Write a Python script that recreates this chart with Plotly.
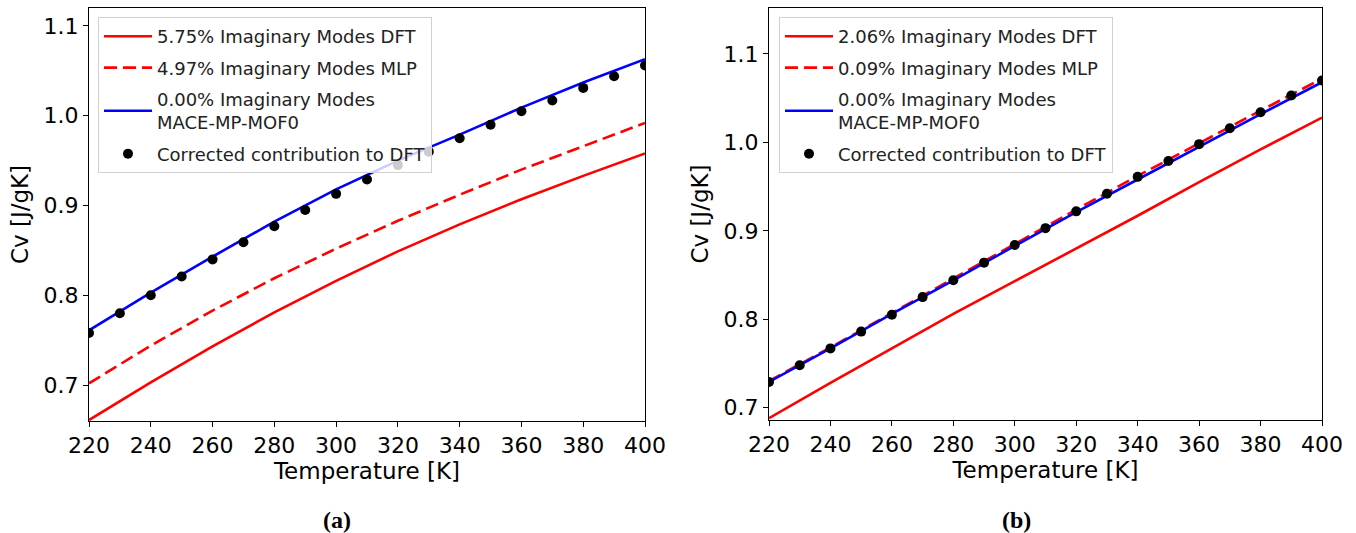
import plotly.graph_objects as go

# ---------------- data ----------------
temps_line = [220, 240, 260, 280, 300, 320, 340, 360, 380, 400]
temps_dots = [220, 230, 240, 250, 260, 270, 280, 290, 300, 310,
              320, 330, 340, 350, 360, 370, 380, 390, 400]

# panel (a)
a_dft = [0.661, 0.703, 0.743, 0.781, 0.816, 0.849, 0.879, 0.907, 0.933, 0.958]
a_mlp = [0.702, 0.744, 0.783, 0.819, 0.852, 0.883, 0.912, 0.940, 0.966, 0.992]
a_mof = [0.761, 0.803, 0.843, 0.882, 0.918, 0.950, 0.979, 1.009, 1.037, 1.063]
a_corr = [0.758, 0.780, 0.800, 0.821, 0.840, 0.859, 0.877, 0.895, 0.913, 0.929,
          0.945, 0.960, 0.975, 0.990, 1.005, 1.017, 1.031, 1.044, 1.056]

# panel (b)
b_dft = [0.688, 0.728, 0.767, 0.806, 0.843, 0.880, 0.917, 0.955, 0.992, 1.028]
b_mlp = [0.730, 0.768, 0.807, 0.846, 0.885, 0.924, 0.962, 0.999, 1.036, 1.072]
b_mof = [0.729, 0.767, 0.806, 0.844, 0.883, 0.921, 0.958, 0.995, 1.032, 1.068]
b_corr = [0.729, 0.748, 0.767, 0.786, 0.805, 0.825, 0.844, 0.864, 0.884, 0.903,
          0.922, 0.942, 0.961, 0.979, 0.998, 1.016, 1.034, 1.053, 1.070]

a_labels = ["5.75% Imaginary Modes DFT", "4.97% Imaginary Modes MLP",
            "0.00% Imaginary Modes<br>MACE-MP-MOF0", "Corrected contribution to DFT"]
b_labels = ["2.06% Imaginary Modes DFT", "0.09% Imaginary Modes MLP",
            "0.00% Imaginary Modes<br>MACE-MP-MOF0", "Corrected contribution to DFT"]

FONT = "DejaVu Sans"
W, H = 1356, 533

fig = go.Figure()


def add_panel(xa, ya, leg, dft, mlp, mof, corr, labels):
    fig.add_trace(go.Scatter(x=temps_line, y=dft, mode="lines", name=labels[0],
                             line=dict(color="#ff0000", width=2.6),
                             xaxis=xa, yaxis=ya, legend=leg, legendgroup=leg + "1"))
    fig.add_trace(go.Scatter(x=temps_line, y=mlp, mode="lines", name=labels[1],
                             line=dict(color="#ff0000", width=2.6, dash="13px,6px"),
                             xaxis=xa, yaxis=ya, legend=leg, legendgroup=leg + "2"))
    fig.add_trace(go.Scatter(x=temps_line, y=mof, mode="lines", name=labels[2],
                             line=dict(color="#0000ff", width=2.6),
                             xaxis=xa, yaxis=ya, legend=leg, legendgroup=leg + "3"))
    fig.add_trace(go.Scatter(x=temps_dots, y=corr, mode="markers", name=labels[3],
                             marker=dict(color="black", size=10),
                             xaxis=xa, yaxis=ya, legend=leg, legendgroup=leg + "4"))


add_panel("x", "y", "legend", a_dft, a_mlp, a_mof, a_corr, a_labels)
add_panel("x2", "y2", "legend2", b_dft, b_mlp, b_mof, b_corr, b_labels)

axis_common = dict(showgrid=False, zeroline=False, showline=True, mirror=True,
                   linecolor="black", linewidth=1, ticks="outside", ticklen=5,
                   tickcolor="black", automargin=False,
                   tickfont=dict(family=FONT, size=22, color="black"))
title_font = dict(family=FONT, size=23, color="black")

legend_common = dict(bgcolor="rgba(255,255,255,0.8)", bordercolor="#d0d0d0",
                     borderwidth=1, font=dict(family=FONT, size=18, color="#222222"),
                     xanchor="left", yanchor="top", tracegroupgap=5, itemwidth=48)

fig.update_layout(
    width=W, height=H,
    margin=dict(l=0, r=0, t=0, b=0),
    paper_bgcolor="white", plot_bgcolor="white",
    showlegend=True,
    xaxis=dict(domain=[89 / W, 645 / W], range=[220, 400], dtick=20, tick0=220,
               anchor="y", title=dict(text="Temperature [K]", font=title_font, standoff=1),
               **axis_common),
    yaxis=dict(domain=[1 - 421 / H, 1 - 8 / H], range=[0.66, 1.12], dtick=0.1, tick0=0.7,
               tickformat=".1f", anchor="x",
               title=dict(text="Cv [J/gK]", font=title_font, standoff=8),
               **axis_common),
    xaxis2=dict(domain=[769 / W, 1322 / W], range=[220, 400], dtick=20, tick0=220,
                anchor="y2", title=dict(text="Temperature [K]", font=title_font, standoff=1),
                **axis_common),
    yaxis2=dict(domain=[1 - 420 / H, 1 - 8 / H], range=[0.686, 1.152], dtick=0.1, tick0=0.7,
                tickformat=".1f", anchor="x2",
                title=dict(text="Cv [J/gK]", font=title_font, standoff=8),
                **axis_common),
    legend=dict(x=98 / W, y=1 - 17 / H, **legend_common),
    legend2=dict(x=779 / W, y=1 - 17 / H, **legend_common),
    annotations=[
        dict(text="<b>(a)</b>", x=337 / W, y=1 - 520 / H, xref="paper", yref="paper",
             showarrow=False, xanchor="center", yanchor="middle",
             font=dict(family="Liberation Serif", size=24, color="black")),
        dict(text="<b>(b)</b>", x=1016 / W, y=1 - 520 / H, xref="paper", yref="paper",
             showarrow=False, xanchor="center", yanchor="middle",
             font=dict(family="Liberation Serif", size=24, color="black")),
    ],
)

fig.write_html("out.html")
